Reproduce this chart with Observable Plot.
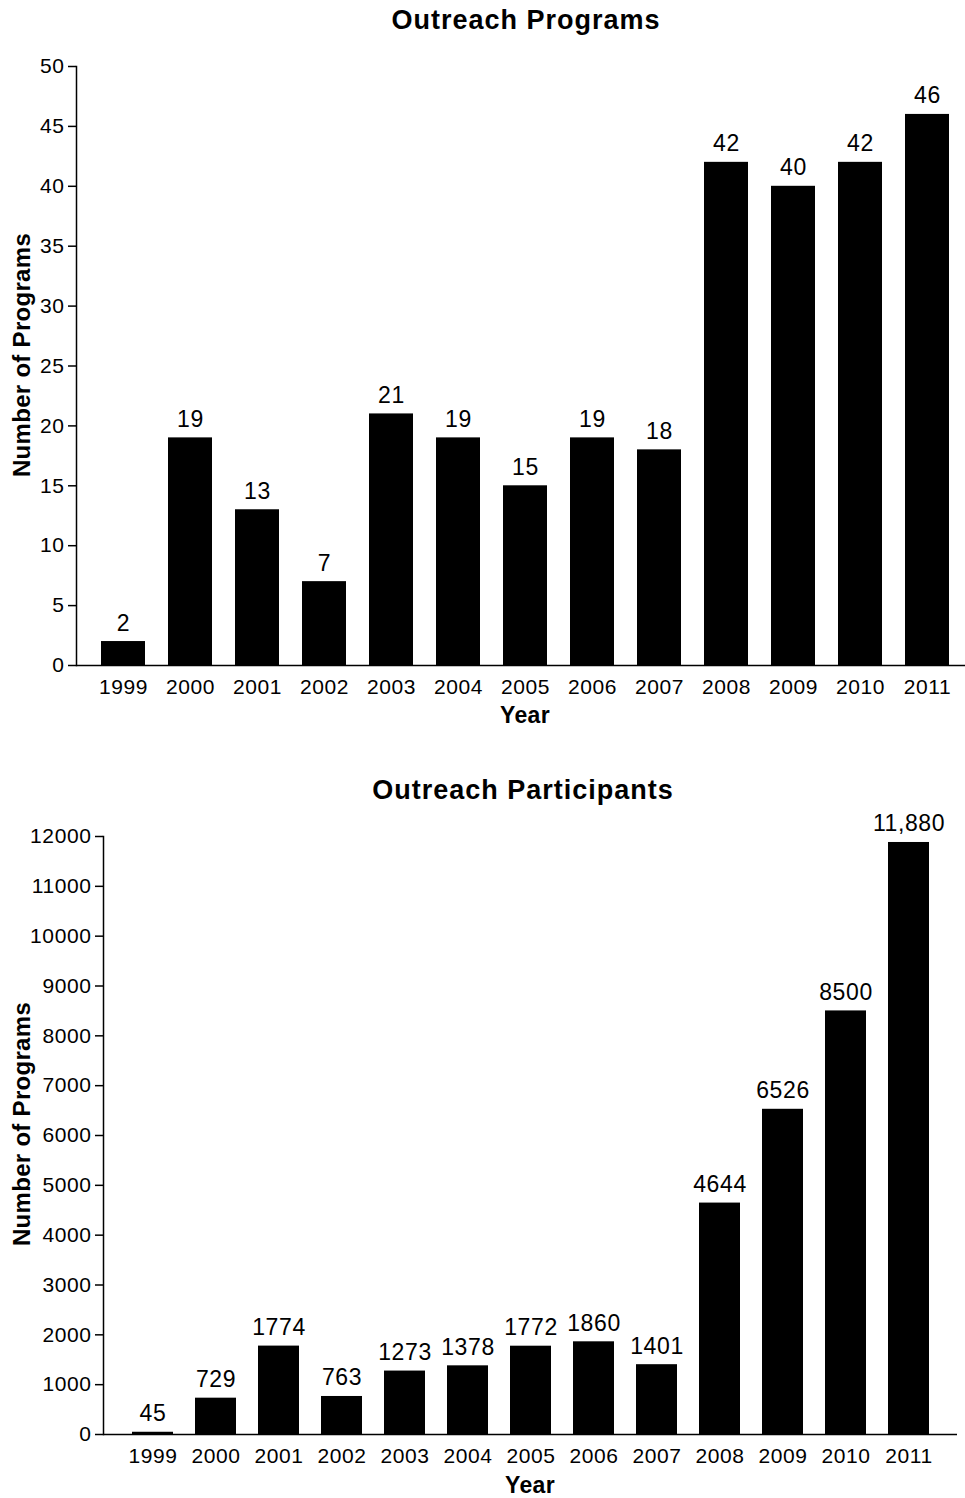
<!DOCTYPE html>
<html><head><meta charset="utf-8">
<script src="https://cdn.jsdelivr.net/npm/d3@7"></script>
<script src="https://cdn.jsdelivr.net/npm/@observablehq/plot@0.6"></script>
<style>
body{margin:0;background:#fff;}
#wrap{position:relative;width:965px;height:1498px;font-family:"Liberation Sans",Arial,sans-serif;color:#000;overflow:hidden;}
.t{position:absolute;white-space:nowrap;text-align:center;font-weight:bold;color:#000;}
.plot{position:absolute;left:0;}
</style></head><body><div id="wrap"></div>
<script>
const years = ["1999","2000","2001","2002","2003","2004","2005","2006","2007","2008","2009","2010","2011"];
const programs = [2,19,13,7,21,19,15,19,18,42,40,42,46];
const programLabels = ["2","19","13","7","21","19","15","19","18","42","40","42","46"];
const participants = [45,729,1774,763,1273,1378,1772,1860,1401,4644,6526,8500,11880];
const participantLabels = ["45","729","1774","763","1273","1378","1772","1860","1401","4644","6526","8500","11,880"];
const programTicks = [0,5,10,15,20,25,30,35,40,45,50];
const participantTicks = [0,1000,2000,3000,4000,5000,6000,7000,8000,9000,10000,11000,12000];

const titles = ["Outreach Programs","Outreach Participants"];
const yLabel = "Number of Programs";
const xLabel = "Year";

const wrap = document.getElementById("wrap");
const font = '"Liberation Sans", Arial, sans-serif';

function chart(values, labels, ticks, yMax, opts) {
  const data = years.map((y, i) => ({year: y, value: values[i], label: labels[i]}));
  return Plot.plot({
    width: 965,
    height: opts.height,
    marginLeft: opts.ml,
    marginRight: opts.mr,
    marginTop: opts.mt,
    marginBottom: opts.mb,
    style: {fontFamily: font, color: "#000", background: "#fff", letterSpacing: "0.6px", overflow: "visible"},
    x: {type: "band", domain: years, range: opts.xr, paddingInner: opts.pi, paddingOuter: opts.pi / 2, label: null},
    y: {domain: [0, yMax], label: null},
    marks: [
      Plot.barY(data, {x: "year", y: "value", fill: "#000"}),
      Plot.text(data, {x: "year", y: "value", text: "label", lineAnchor: "bottom", dy: -11, fontSize: 23, fill: "#000"}),
      Plot.ruleY([0], {stroke: "#000", strokeWidth: 1.5}),
      Plot.frame({anchor: "left", stroke: "#000", strokeWidth: 1.5}),
      Plot.axisY({ticks: ticks, tickFormat: "d", tickSize: 8, tickPadding: 4, fontSize: 21, strokeWidth: 1.5, label: null}),
      Plot.axisX({tickSize: 0, tickPadding: 14, fontSize: 21, label: null})
    ]
  });
}

function place(el, top) {
  el.classList.add("plot");
  el.style.top = top + "px";
  wrap.appendChild(el);
}

function text(str, style) {
  const d = document.createElement("div");
  d.className = "t";
  d.textContent = str;
  Object.assign(d.style, style);
  wrap.appendChild(d);
}

place(chart(programs, programLabels, programTicks, 50,
  {height: 730, ml: 76, mr: 0, mt: 66, mb: 65, xr: [88.45, 961.05], pi: 0.344}), 0);
place(chart(participants, participantLabels, participantTicks, 12000,
  {height: 738, ml: 103, mr: 8, mt: 76, mb: 64, xr: [116.15, 944.35], pi: 0.356}), 760);

// titles
text(titles[0], {left: "226px", width: "600px", top: "7.1px", fontSize: "27px", lineHeight: "27px", letterSpacing: "1px"});
text(titles[1], {left: "223px", width: "600px", top: "777.1px", fontSize: "27px", lineHeight: "27px", letterSpacing: "1px"});
// y labels
text(yLabel, {left: "-178.3px", width: "400px", top: "343px", height: "24px", fontSize: "24px", lineHeight: "24px", letterSpacing: "0.3px", transform: "rotate(-90deg)"});
text(yLabel, {left: "-178.3px", width: "400px", top: "1112px", height: "24px", fontSize: "24px", lineHeight: "24px", letterSpacing: "0.3px", transform: "rotate(-90deg)"});
// x labels
text(xLabel, {left: "425px", width: "200px", top: "703.5px", fontSize: "23px", lineHeight: "23px", letterSpacing: "0.3px"});
text(xLabel, {left: "430px", width: "200px", top: "1473.5px", fontSize: "23px", lineHeight: "23px", letterSpacing: "0.3px"});
</script></body></html>
